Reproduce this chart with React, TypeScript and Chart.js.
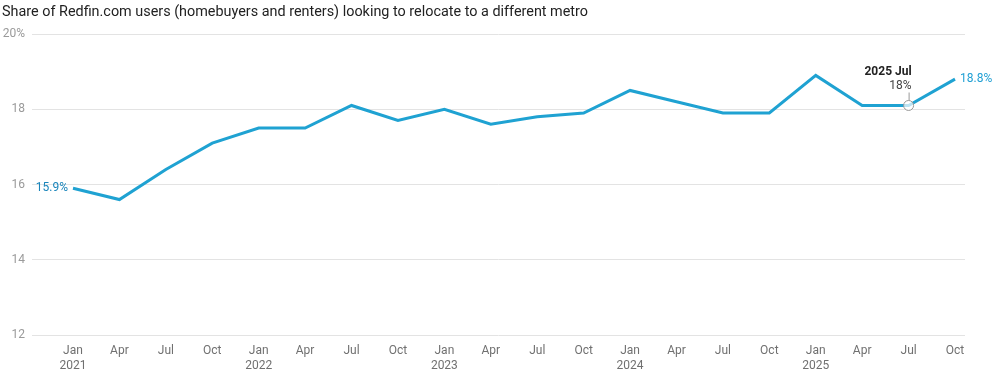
import React, { useEffect, useRef } from "react";
import { Chart, registerables } from "chart.js";

Chart.register(...registerables);

const TITLE = "Share of Redfin.com users (homebuyers and renters) looking to relocate to a different metro";
const MONTHS = ["Jan", "Apr", "Jul", "Oct", "Jan", "Apr", "Jul", "Oct", "Jan", "Apr", "Jul", "Oct", "Jan", "Apr", "Jul", "Oct", "Jan", "Apr", "Jul", "Oct"];
const YEARS = ["2021", "", "", "", "2022", "", "", "", "2023", "", "", "", "2024", "", "", "", "2025", "", "", ""];
const VALUES = [15.9, 15.6, 16.4, 17.1, 17.5, 17.5, 18.1, 17.7, 18.0, 17.6, 17.8, 17.9, 18.5, 18.2, 17.9, 17.9, 18.9, 18.1, 18.1, 18.8];
const Y_TICKS = [12, 14, 16, 18, 20];
const FIRST_LABEL = "15.9%";
const LAST_LABEL = "18.8%";
const HIGHLIGHT_INDEX = 18;
const HIGHLIGHT_TITLE = "2025 Jul";
const HIGHLIGHT_VALUE = "18%";

const FONT = "Roboto, 'Noto Sans', sans-serif";
const LINE_COLOR = "#1fa2d2";

const annotate = {
  id: "annotate",
  afterDraw(chart: any) {
    const ctx = chart.ctx;
    const meta = chart.getDatasetMeta(0);
    ctx.save();
    // title
    ctx.font = `14.4px ${FONT}`;
    ctx.fillStyle = "#222";
    ctx.textAlign = "left";
    ctx.textBaseline = "middle";
    ctx.fillText(TITLE, 2, 12);

    // first / last labels
    const p0 = meta.data[0];
    const pl = meta.data[meta.data.length - 1];
    ctx.font = `12px ${FONT}`;
    ctx.fillStyle = "#1a85bb";
    ctx.textAlign = "right";
    ctx.fillText(FIRST_LABEL, p0.x - 5, p0.y);
    ctx.fillStyle = "#22a0d4";
    ctx.textAlign = "left";
    ctx.fillText(LAST_LABEL, pl.x + 5, pl.y);

    // highlight
    const ph = meta.data[HIGHLIGHT_INDEX];
    ctx.beginPath();
    ctx.arc(ph.x, ph.y, 5, 0, Math.PI * 2);
    ctx.fillStyle = "rgba(255,255,255,0.7)";
    ctx.fill();
    ctx.strokeStyle = "#999";
    ctx.lineWidth = 1;
    ctx.stroke();
    ctx.beginPath();
    ctx.moveTo(ph.x + 0.5, ph.y - 5);
    ctx.lineTo(ph.x + 0.5, ph.y - 13);
    ctx.stroke();
    ctx.textAlign = "right";
    ctx.fillStyle = "#444";
    ctx.font = `12px ${FONT}`;
    ctx.fillText(HIGHLIGHT_VALUE, ph.x + 3, ph.y - 19);
    ctx.fillStyle = "#222";
    ctx.font = `bold 12px ${FONT}`;
    ctx.fillText(HIGHLIGHT_TITLE, ph.x + 3, ph.y - 33);
    ctx.restore();
  },
};

export default function App() {
  const ref = useRef<HTMLCanvasElement>(null);
  useEffect(() => {
    document.body.style.margin = "0";
    const chart = new Chart(ref.current!, {
      type: "line",
      data: {
        datasets: [
          {
            data: VALUES.map((v, i) => ({ x: i, y: v })),
            borderColor: LINE_COLOR,
            borderWidth: 3,
            pointRadius: 0,
            tension: 0,
            fill: false,
          },
        ],
      },
      options: {
        animation: false,
        responsive: false,
        layout: { padding: { top: 34, left: 0, right: 32, bottom: 0 } },
        plugins: { legend: { display: false }, tooltip: { enabled: false }, title: { display: false } },
        scales: {
          x: {
            type: "linear",
            min: -0.883,
            max: 19.215,
            grid: { display: false },
            border: { display: false },
            afterBuildTicks: (scale: any) => {
              scale.ticks = MONTHS.map((_, i) => ({ value: i }));
            },
            afterFit: (scale: any) => {
              scale.height = 41;
            },
            ticks: {
              autoSkip: false,
              maxRotation: 0,
              padding: 0,
              color: "#707070",
              font: { family: FONT, size: 12, lineHeight: 1.25 },
              callback: (v: any) => {
                const i = Math.round(Number(v));
                return YEARS[i] ? [MONTHS[i], YEARS[i]] : MONTHS[i];
              },
            },
          },
          y: {
            min: 12,
            max: 20,
            grid: { color: "#e3e3e3", drawTicks: false },
            border: { display: false },
            afterBuildTicks: (scale: any) => {
              scale.ticks = Y_TICKS.map((v) => ({ value: v }));
            },
            afterFit: (scale: any) => {
              scale.width = 32;
            },
            ticks: {
              padding: 7,
              color: "#9a9a9a",
              font: { family: FONT, size: 12 },
              callback: (v: any) => (v === 20 ? "20%" : String(v)),
            },
          },
        },
      },
      plugins: [annotate],
    });
    return () => chart.destroy();
  }, []);
  return (
    <div style={{ position: "absolute", left: 0, top: 0, width: 997, height: 376 }}>
      <canvas ref={ref} width={997} height={376} style={{ width: 997, height: 376 }} />
    </div>
  );
}
